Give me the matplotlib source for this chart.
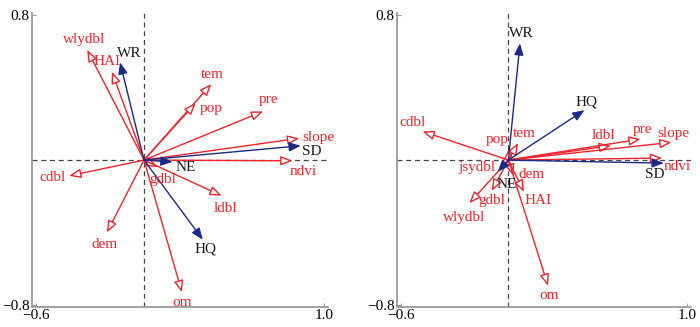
import matplotlib
matplotlib.use("Agg")
import matplotlib.pyplot as plt

plt.rcParams['font.family'] = ['Liberation Serif', 'DejaVu Serif']

RED = '#f0232d'
BLUE = '#1b2a85'
GRAY = '#9a9a9a'

# 左图 (environment factors = red, ecosystem services = blue)
left_env = ['wlydbl', 'HAI', 'tem', 'pop', 'pre', 'slope', 'ndvi', 'gdbl', 'ldbl', 'om', 'dem', 'cdbl']
left_env_x = [-0.315, -0.178, 0.373, 0.286, 0.66, 0.86, 0.823, 0.076, 0.43, 0.21, -0.206, -0.415]
left_env_y = [0.608, 0.488, 0.42, 0.315, 0.269, 0.12, -0.004, -0.04, -0.197, -0.73, -0.40, -0.087]
left_es = ['WR', 'SD', 'NE', 'HQ']
left_es_x = [-0.133, 0.869, 0.158, 0.326]
left_es_y = [0.54, 0.079, -0.01, -0.44]

# 右图
right_env = ['cdbl', 'pop', 'tem', 'ldbl', 'pre', 'slope', 'ndvi', 'jsydbl', 'dem', 'HAI', 'gdbl', 'wlydbl', 'om']
right_env_x = [-0.48, 0.006, 0.055, 0.574, 0.74, 0.913, 0.861, -0.05, 0.028, 0.087, -0.093, -0.218, 0.222]
right_env_y = [0.158, 0.066, 0.094, 0.079, 0.116, 0.098, 0.011, -0.05, -0.087, -0.175, -0.17, -0.238, -0.694]
right_es = ['WR', 'HQ', 'SD', 'NE']
right_es_x = [0.065, 0.426, 0.87, -0.06]
right_es_y = [0.645, 0.276, -0.017, -0.065]

# label positions
left_lab = {'wlydbl': (-0.33, 0.665), 'HAI': (-0.207, 0.543), 'WR': (-0.079, 0.586),
            'tem': (0.38, 0.475), 'pop': (0.374, 0.287), 'pre': (0.692, 0.337),
            'slope': (0.967, 0.122), 'SD': (0.93, 0.046), 'ndvi': (0.884, -0.064),
            'NE': (0.233, -0.04), 'gdbl': (0.105, -0.105), 'ldbl': (0.453, -0.27),
            'HQ': (0.343, -0.49), 'om': (0.211, -0.786), 'dem': (-0.22, -0.464),
            'cdbl': (-0.51, -0.096)}
right_lab = {'WR': (0.074, 0.70), 'HQ': (0.439, 0.319), 'cdbl': (-0.537, 0.208),
             'pop': (-0.065, 0.112), 'tem': (0.087, 0.144), 'ldbl': (0.533, 0.138),
             'pre': (0.75, 0.171), 'slope': (0.926, 0.149), 'ndvi': (0.944, -0.037),
             'SD': (0.82, -0.077), 'jsydbl': (-0.176, -0.04), 'NE': (-0.01, -0.133),
             'dem': (0.13, -0.077), 'HAI': (0.167, -0.225), 'gdbl': (-0.093, -0.225),
             'wlydbl': (-0.25, -0.317), 'om': (0.226, -0.75)}


def draw(ax, env, ex, ey, es, sx, sy, labs):
    ax.axhline(0, color='#444444', ls=(0, (4, 3)), lw=0.9, zorder=1)
    ax.axvline(0, color='#444444', ls=(0, (4, 3)), lw=0.9, zorder=1)
    for n, x, y in zip(env, ex, ey):
        ax.annotate('', xy=(x, y), xytext=(0, 0),
                    arrowprops=dict(arrowstyle='-|>,head_length=0.5,head_width=0.2',
                                    fc='white', ec=RED, lw=1.0, mutation_scale=14,
                                    shrinkA=0, shrinkB=0), zorder=3)
        ax.text(*labs[n], n, color=RED, fontsize=11, ha='center', va='center', zorder=5)
    for n, x, y in zip(es, sx, sy):
        ax.annotate('', xy=(x, y), xytext=(0, 0),
                    arrowprops=dict(arrowstyle='-|>,head_length=0.5,head_width=0.2',
                                    fc=BLUE, ec=BLUE, lw=1.0, mutation_scale=14,
                                    shrinkA=0, shrinkB=0), zorder=4)
        ax.text(*labs[n], n, color='#1a1a1a', fontsize=11, ha='center', va='center', zorder=5)

    ax.set_xlim(-0.624, 1.022)
    ax.set_ylim(-0.812, 0.812)
    ax.set_xticks([-0.6, 1.0])
    ax.set_xticklabels(['\u22120.6', '1.0'])
    ax.set_yticks([-0.8, 0.8])
    ax.set_yticklabels(['\u22120.8', '0.8'])
    ax.tick_params(direction='in', length=3, color=GRAY, labelsize=11, pad=1.5)
    for s in ['top', 'right']:
        ax.spines[s].set_visible(False)
    for s in ['left', 'bottom']:
        ax.spines[s].set_color(GRAY)
        ax.spines[s].set_linewidth(1.3)


fig = plt.figure(figsize=(7, 3.27), dpi=100)
ax1 = fig.add_axes([0.045, 0.061, 0.424, 0.899])
ax2 = fig.add_axes([0.567, 0.061, 0.420, 0.899])
draw(ax1, left_env, left_env_x, left_env_y, left_es, left_es_x, left_es_y, left_lab)
draw(ax2, right_env, right_env_x, right_env_y, right_es, right_es_x, right_es_y, right_lab)

fig.savefig('out.png', dpi=100)
